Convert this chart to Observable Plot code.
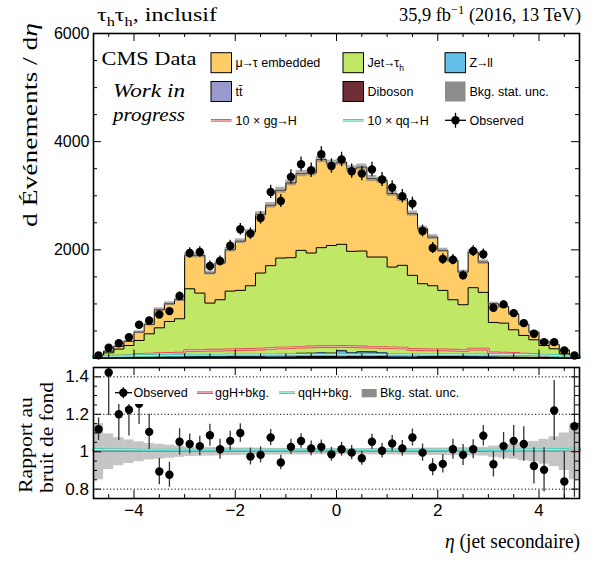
<!DOCTYPE html>
<html><head><meta charset="utf-8">
<script src="https://cdn.jsdelivr.net/npm/d3@7"></script>
<script src="https://cdn.jsdelivr.net/npm/@observablehq/plot@0.6"></script>
<style>
html,body{margin:0;padding:0;background:#fff;}
#wrap{position:relative;width:595px;height:562px;overflow:hidden;background:#fff;}
#wrap > svg{position:absolute;left:0;}
</style></head><body><div id="wrap"></div>
<script>
// ---------------- DATA ----------------
const binEdges = [-4.8,-4.6,-4.4,-4.2,-4.0,-3.8,-3.6,-3.4,-3.2,-3.0,-2.8,-2.6,-2.4,-2.2,-2.0,-1.8,-1.6,-1.4,-1.2,-1.0,-0.8,-0.6,-0.4,-0.2,0,0.2,0.4,0.6,0.8,1.0,1.2,1.4,1.6,1.8,2.0,2.2,2.4,2.6,2.8,3.0,3.2,3.4,3.6,3.8,4.0,4.2,4.4,4.6,4.8];

const embedded = [15,31,48,74,154,173,334,328,352,620,
  698,556,679,766,910,994,1086,1117,1254,1382,
  1420,1481,1630,1520,1518,1528,1552,1451,1420,1358,
  1235,1142,1018,901,740,728,604,660,561,346,
  309,296,203,141,80,80,72,31];
const jetFakes = [22,86,154,219,309,430,540,655,704,1256,
  1173,987,1047,1205,1216,1302,1536,1662,1800,1806,
  1902,1851,1947,1989,1968,1879,1864,1755,1774,1630,
  1663,1482,1342,1306,1222,1050,960,1277,1192,638,
  628,506,403,325,221,161,70,10];
const zll = [3,4,5,6,7,8,9,10,11,12,
  14,15,16,17,18,18,19,28,30,30,
  62,64,66,64,100,66,84,82,66,34,
  32,30,18,17,16,15,14,13,12,10,
  9,8,7,6,5,4,3,2];
const ttbar = [3,3,4,4,5,6,6,7,7,8,
  9,9,10,10,11,11,11,12,12,13,
  18,18,19,19,24,19,21,21,19,12,
  12,11,9,9,8,8,7,7,6,6,
  5,5,4,4,3,3,3,2];
const diboson = [2,2,2,2,3,3,3,3,3,4,
  4,4,4,5,5,5,5,5,6,6,
  8,8,8,8,10,8,9,9,8,6,
  6,5,5,4,4,4,4,3,3,3,
  3,3,3,2,2,2,2,1];
const ggH10 = [25,30,35,40,70,75,80,85,90,140,
  140,145,145,150,155,160,165,175,185,190,
  200,205,210,210,215,210,205,200,195,190,
  185,160,155,150,150,145,140,165,165,95,
  90,85,75,65,45,35,25,15];
const qqH10 = [20,30,35,40,45,45,50,50,50,55,
  55,55,55,60,60,60,60,60,62,62,
  62,62,62,62,62,62,62,62,62,62,
  62,60,60,60,60,60,60,60,60,65,
  65,65,65,60,55,45,35,25];
const observed = [48,189,274,385,614,694,805,867,1145,1941,
  1960,1700,1793,2077,2380,2300,2589,3071,2904,3349,
  3583,3472,3768,3550,3670,3454,3410,3485,3300,3152,
  2990,2855,2348,2034,1830,1818,1528,1978,1917,930,
  991,830,645,448,293,293,139,46];
const bkgRelUnc = [0.15,0.095,0.075,0.063,0.053,0.044,0.04,0.035,0.03,0.025,
  0.024,0.023,0.022,0.021,0.02,0.02,0.019,0.018,0.018,0.017,
  0.017,0.016,0.016,0.016,0.016,0.016,0.016,0.017,0.017,0.017,
  0.018,0.018,0.019,0.02,0.02,0.021,0.022,0.022,0.023,0.03,
  0.035,0.04,0.048,0.055,0.066,0.08,0.1,0.15];
const ratioObs = [1.12,1.423,1.20,1.224,1.256,1.106,0.894,0.877,1.053,1.041,
  1.030,1.088,1.013,1.058,1.10,0.974,0.983,1.076,0.942,1.026,
  1.057,1.018,1.026,0.986,1.013,0.995,0.965,1.053,1.005,1.044,
  1.018,1.076,0.995,0.917,0.935,1.013,0.983,1.013,1.085,0.933,
  1.030,1.058,1.041,0.924,0.903,1.22,0.841,1.136];
const ratioErr = [0.06,0.23,0.14,0.14,0.11,0.094,0.07,0.067,0.07,0.053,
  0.052,0.059,0.053,0.052,0.05,0.045,0.043,0.043,0.039,0.04,
  0.039,0.039,0.037,0.037,0.037,0.038,0.037,0.04,0.039,0.042,
  0.042,0.045,0.046,0.045,0.049,0.053,0.056,0.051,0.055,0.068,
  0.073,0.082,0.092,0.097,0.118,0.16,0.16,0.38];
const ggRatio = [1.004,1.005,1.005,1.005,1.006,1.006,1.006,1.006,1.006,1.006,
  1.006,1.006,1.006,1.006,1.006,1.006,1.006,1.006,1.006,1.006,
  1.006,1.006,1.006,1.006,1.006,1.006,1.006,1.006,1.006,1.006,
  1.006,1.006,1.006,1.006,1.006,1.006,1.006,1.006,1.006,1.007,
  1.007,1.007,1.007,1.007,1.007,1.007,1.007,1.007];
const qqRatio = [1.012,1.011,1.011,1.011,1.010,1.010,1.010,1.010,1.010,1.010,
  1.010,1.010,1.010,1.010,1.010,1.010,1.010,1.010,1.010,1.010,
  1.010,1.010,1.010,1.010,1.010,1.010,1.010,1.010,1.010,1.010,
  1.010,1.010,1.010,1.010,1.010,1.010,1.010,1.010,1.010,1.010,
  1.010,1.010,1.011,1.011,1.011,1.012,1.013,1.015];

const xMajorTicks = [-4,-2,0,2,4];
const xTickLabels = ["\u22124","\u22122","0","2","4"];
const xMinorTicks = [-4.5,-3.5,-3,-2.5,-1.5,-1,-0.5,0.5,1,1.5,2.5,3,3.5,4.5];
const yMajorTicks = [0,2000,4000,6000];
const yLabelTicks = [2000,4000,6000];
const yMinorTicks = [500,1000,1500,2500,3000,3500,4500,5000,5500];
const rMajorTicks = [0.8,1,1.2,1.4];
const rTickLabels = ["0.8","1","1.2","1.4"];
const rMinorTicks = [0.75,0.85,0.9,0.95,1.05,1.1,1.15,1.25,1.3,1.35,1.45];
const rGrid = [0.8,1.2,1.4];

// ---------------- helpers ----------------
const n = observed.length;
const serif = "'Liberation Serif','DejaVu Serif',serif";
const sans = "'Liberation Sans','DejaVu Sans',Arial,sans-serif";
const rows = d3.range(n).map(i => ({
  x1: binEdges[i], x2: binEdges[i+1], xc: (binEdges[i] + binEdges[i+1]) / 2,
  obs: observed[i], r: ratioObs[i], rErr: ratioErr[i], unc: bkgRelUnc[i]
}));
function stepPts(vals, closed) {
  const pts = closed ? [{x: binEdges[0], y: 0}] : [];
  vals.forEach((v, i) => pts.push({x: binEdges[i], y: v}));
  pts.push({x: binEdges[n], y: vals[n-1]});
  if (closed) pts.push({x: binEdges[n], y: 0});
  return pts;
}
function innerTicks(W, H, xMaj, xMin, yMaj, yMin, maj, mino) {
  const s = {stroke: "black", strokeWidth: 1};
  return [
    Plot.tickX(xMaj, {x: d => d, insetTop: H - maj, ...s}),
    Plot.tickX(xMaj, {x: d => d, insetBottom: H - maj, ...s}),
    Plot.tickX(xMin, {x: d => d, insetTop: H - mino, ...s}),
    Plot.tickX(xMin, {x: d => d, insetBottom: H - mino, ...s}),
    Plot.tickY(yMaj, {y: d => d, insetRight: W - maj, ...s}),
    Plot.tickY(yMaj, {y: d => d, insetLeft: W - maj, ...s}),
    Plot.tickY(yMin, {y: d => d, insetRight: W - mino, ...s}),
    Plot.tickY(yMin, {y: d => d, insetLeft: W - mino, ...s})
  ];
}

// ---------------- top panel ----------------
const procs = [
  {values: diboson, color: "#6f2d35"},
  {values: ttbar, color: "#9999cc"},
  {values: zll, color: "#64c0e8"},
  {values: jetFakes, color: "#c0e864"},
  {values: embedded, color: "#ffcc66"}
];
let cum = new Array(n).fill(0);
const stackMarks = [], outlineMarks = [];
procs.forEach(p => {
  const data = rows.map((r, i) => ({x1: r.x1, x2: r.x2, y1: cum[i], y2: cum[i] + p.values[i]}));
  cum = data.map(d => d.y2);
  stackMarks.push(Plot.rect(data, {x1: "x1", x2: "x2", y1: "y1", y2: "y2", fill: p.color, shapeRendering: "crispEdges"}));
  outlineMarks.push(Plot.line(stepPts(cum, true), {x: "x", y: "y", curve: "step-after", stroke: "black", strokeWidth: 1}));
});
const totalBkg = cum;

const W = 595 - 93 - 16;
const H1 = 360 - 33 - 2.5;
const topPlot = Plot.plot({
  width: 595, height: 360, marginLeft: 93, marginRight: 16, marginTop: 33, marginBottom: 2.5,
  x: {domain: [-4.8, 4.8], axis: null},
  y: {domain: [0, 6000], axis: null},
  style: {fontFamily: sans, background: "white", color: "black"},
  marks: [
    ...stackMarks,
    ...outlineMarks,
    Plot.rect(rows.map((r, i) => ({x1: r.x1, x2: r.x2, lo: totalBkg[i] * (1 - r.unc), hi: totalBkg[i] * (1 + r.unc)})),
      {x1: "x1", x2: "x2", y1: "lo", y2: "hi", fill: "#7a7a7a", fillOpacity: 0.6}),
    Plot.line(stepPts(ggH10, false), {x: "x", y: "y", curve: "step-after", stroke: "#e3434e", strokeWidth: 2.6}),
    Plot.line(stepPts(ggH10, false), {x: "x", y: "y", curve: "step-after", stroke: "#f8c9cc", strokeWidth: 0.9}),
    Plot.line(stepPts(qqH10, false), {x: "x", y: "y", curve: "step-after", stroke: "#2cc7b3", strokeWidth: 2.6}),
    Plot.line(stepPts(qqH10, false), {x: "x", y: "y", curve: "step-after", stroke: "#d2f6f0", strokeWidth: 0.9}),
    Plot.ruleX(rows, {x: "xc", y1: d => d.obs * (1 - d.rErr / d.r), y2: d => d.obs * (1 + d.rErr / d.r), stroke: "black", strokeWidth: 1.3}),
    Plot.dot(rows, {x: "xc", y: "obs", r: 4.2, fill: "black", stroke: "none"}),
    ...innerTicks(W, H1, xMajorTicks, xMinorTicks, yMajorTicks, yMinorTicks, 8, 4),
    Plot.axisY(yLabelTicks, {tickSize: 0, tickPadding: 4, fontSize: 16, label: null, tickFormat: d => String(d)}),
    Plot.frame({stroke: "black", strokeWidth: 1.6})
  ]
});
topPlot.style.top = "0px";

// ---------------- ratio panel ----------------
const H2 = 202 - 7 - 64;
const ratioPlot = Plot.plot({
  width: 595, height: 202, marginLeft: 93, marginRight: 16, marginTop: 7, marginBottom: 64,
  x: {domain: [-4.8, 4.8], axis: null},
  y: {domain: [0.75, 1.45], axis: null},
  style: {fontFamily: sans, background: "white", color: "black"},
  marks: [
    Plot.ruleY(rGrid, {stroke: "black", strokeWidth: 1, strokeDasharray: "1.2,2.2"}),
    Plot.rect(rows, {x1: "x1", x2: "x2", y1: d => 1 - d.unc, y2: d => 1 + d.unc, fill: "#8c8c8c", fillOpacity: 0.5, clip: true}),
    Plot.line(stepPts(ggRatio, false), {x: "x", y: "y", curve: "step-after", stroke: "#e3434e", strokeWidth: 2.4}),
    Plot.line(stepPts(ggRatio, false), {x: "x", y: "y", curve: "step-after", stroke: "#f8c9cc", strokeWidth: 0.8}),
    Plot.line(stepPts(qqRatio, false), {x: "x", y: "y", curve: "step-after", stroke: "#2cc7b3", strokeWidth: 2.4}),
    Plot.line(stepPts(qqRatio, false), {x: "x", y: "y", curve: "step-after", stroke: "#d2f6f0", strokeWidth: 0.8}),
    Plot.ruleX(rows, {x: "xc", y1: d => d.r - d.rErr, y2: d => d.r + d.rErr, stroke: "#333", strokeWidth: 1.3, clip: true}),
    Plot.dot(rows, {x: "xc", y: "r", r: 4.2, fill: "black", stroke: "none", clip: true}),
    ...innerTicks(W, H2, xMajorTicks, xMinorTicks, rMajorTicks, rMinorTicks, 8, 4),
    Plot.axisY(rMajorTicks, {tickSize: 0, tickPadding: 4.5, fontSize: 17, label: null, tickFormat: d => rTickLabels[rMajorTicks.indexOf(d)]}),
    Plot.axisX(xMajorTicks, {tickSize: 0, tickPadding: 5, fontSize: 17, label: null, tickFormat: d => xTickLabels[xMajorTicks.indexOf(d)]}),
    Plot.frame({stroke: "black", strokeWidth: 1.6})
  ]
});
ratioPlot.style.top = "360px";

const wrap = document.getElementById("wrap");
wrap.appendChild(topPlot);
wrap.appendChild(ratioPlot);

// ---------------- texts and legends (overlay) ----------------
const ov = d3.create("svg").attr("width", 595).attr("height", 562)
  .style("position", "absolute").style("top", "0px").style("left", "0px").style("pointer-events", "none");

function txt(parent, x, y, parts, o) {
  const t = parent.append("text").attr("x", x).attr("y", y)
    .attr("font-family", o.family || serif).attr("font-size", o.size)
    .attr("text-anchor", o.anchor || "start").attr("fill", "black");
  if (o.italic) t.attr("font-style", "italic");
  if (o.length) t.attr("textLength", o.length).attr("lengthAdjust", "spacingAndGlyphs");
  let shift = 0, tight = false;
  parts.forEach(p => {
    const s = t.append("tspan").text(p.t);
    let target = 0;
    if (p.sub) { target = o.size * 0.28; s.attr("font-size", o.size * 0.68); }
    if (p.sup) { target = -o.size * 0.38; s.attr("font-size", o.size * 0.68); }
    if (p.italic) s.attr("font-style", "italic");
    if (p.arrow) { s.attr("dx", -1.2); tight = true; }
    else if (tight) { s.attr("dx", -1.2); tight = false; }
    if (target !== shift) { s.attr("dy", target - shift); shift = target; }
  });
  return t;
}

// header
txt(ov, 97, 21, [{t: "\u03c4"}, {t: "h", sub: true}, {t: "\u03c4"}, {t: "h", sub: true}, {t: ", inclusif"}], {size: 18, length: 120});
txt(ov, 581, 21, [{t: "35,9 fb"}, {t: "\u22121", sup: true}, {t: " (2016, 13 TeV)"}], {size: 18, anchor: "end", length: 182});
// CMS label
txt(ov, 101.5, 65, [{t: "CMS Data"}], {size: 19, length: 95});
txt(ov, 113, 97, [{t: "Work  in"}], {size: 18, italic: true, length: 72});
txt(ov, 113, 121, [{t: "progress"}], {size: 18, italic: true, length: 72});
// axis titles
const gy = ov.append("g").attr("transform", "translate(37,227) rotate(-90)");
txt(gy, 0, 0, [{t: "d \u00c9v\u00e9nements / d"}, {t: "\u03b7", italic: true}], {size: 21, length: 204});
const gr1 = ov.append("g").attr("transform", "translate(32,493) rotate(-90)");
txt(gr1, 0, 0, [{t: "Rapport au"}], {size: 19.5, length: 96});
const gr2 = ov.append("g").attr("transform", "translate(53,493) rotate(-90)");
txt(gr2, 0, 0, [{t: "bruit de fond"}], {size: 19.5, length: 111});
txt(ov, 580, 548, [{t: "\u03b7", italic: true}, {t: " (jet secondaire)"}], {size: 21, anchor: "end", length: 135});

// top legend
const legendTop = [
  {parts: [{t: "\u03bc"}, {t: "\u2192", arrow: true}, {t: "\u03c4 embedded"}], kind: "box", color: "#ffcc66"},
  {parts: [{t: "Jet"}, {t: "\u2192", arrow: true}, {t: "\u03c4"}, {t: "h", sub: true}], kind: "box", color: "#c0e864"},
  {parts: [{t: "Z"}, {t: "\u2192", arrow: true}, {t: "ll"}], kind: "box", color: "#64c0e8"},
  {parts: [{t: "t"}, {t: "t\u0304"}], kind: "box", color: "#9999cc"},
  {parts: [{t: "Diboson"}], kind: "box", color: "#6f2d35"},
  {parts: [{t: "Bkg. stat. unc."}], kind: "band", color: "#8c8c8c"},
  {parts: [{t: "10 \u00d7 gg"}, {t: "\u2192", arrow: true}, {t: "H"}], kind: "line", color: "#e3434e", inner: "#f8c9cc"},
  {parts: [{t: "10 \u00d7 qq"}, {t: "\u2192", arrow: true}, {t: "H"}], kind: "line", color: "#2cc7b3", inner: "#d2f6f0"},
  {parts: [{t: "Observed"}], kind: "obs"}
];
const colX = [211, 343, 445];
const rowY = [62.7, 91.5, 120.3];
legendTop.forEach((e, k) => {
  const x = colX[k % 3], y = rowY[Math.floor(k / 3)];
  if (e.kind === "box") ov.append("rect").attr("x", x).attr("y", y - 10).attr("width", 20.5).attr("height", 20).attr("fill", e.color).attr("stroke", "black").attr("stroke-width", 1);
  if (e.kind === "band") ov.append("rect").attr("x", x).attr("y", y - 10).attr("width", 20.5).attr("height", 20).attr("fill", e.color);
  if (e.kind === "line") {
    ov.append("line").attr("x1", x).attr("x2", x + 20.5).attr("y1", y).attr("y2", y).attr("stroke", e.color).attr("stroke-width", 2.6);
    ov.append("line").attr("x1", x).attr("x2", x + 20.5).attr("y1", y).attr("y2", y).attr("stroke", e.inner).attr("stroke-width", 0.9);
  }
  if (e.kind === "obs") {
    ov.append("line").attr("x1", x).attr("x2", x + 21).attr("y1", y).attr("y2", y).attr("stroke", "black").attr("stroke-width", 1.3);
    ov.append("line").attr("x1", x + 10.5).attr("x2", x + 10.5).attr("y1", y - 7.5).attr("y2", y + 7.5).attr("stroke", "black").attr("stroke-width", 1.3);
    ov.append("circle").attr("cx", x + 10.5).attr("cy", y).attr("r", 4.2).attr("fill", "black");
  }
  txt(ov, x + 24.5, y + 4.5, e.parts, {size: 12.5, family: sans});
});

// ratio legend
ov.append("rect").attr("x", 112).attr("y", 381).attr("width", 373).attr("height", 23).attr("fill", "white");
const ry = 392.7;
ov.append("line").attr("x1", 115).attr("x2", 132).attr("y1", ry).attr("y2", ry).attr("stroke", "black").attr("stroke-width", 1.3);
ov.append("line").attr("x1", 123.3).attr("x2", 123.3).attr("y1", ry - 5.5).attr("y2", ry + 5.5).attr("stroke", "black").attr("stroke-width", 1.3);
ov.append("circle").attr("cx", 123.3).attr("cy", ry).attr("r", 4.2).attr("fill", "black");
txt(ov, 133.5, ry + 4.5, [{t: "Observed"}], {size: 12.5, family: sans});
[[197, "#e3434e", "#f8c9cc", "ggH+bkg.", 215], [279, "#2cc7b3", "#d2f6f0", "qqH+bkg.", 298]].forEach(([x, c, ci, lab, tx]) => {
  ov.append("line").attr("x1", x).attr("x2", x + 16).attr("y1", ry).attr("y2", ry).attr("stroke", c).attr("stroke-width", 2.6);
  ov.append("line").attr("x1", x).attr("x2", x + 16).attr("y1", ry).attr("y2", ry).attr("stroke", ci).attr("stroke-width", 0.9);
  txt(ov, tx, ry + 4.5, [{t: lab}], {size: 12.5, family: sans});
});
ov.append("rect").attr("x", 361.7).attr("y", 389).attr("width", 15).attr("height", 8.3).attr("fill", "#8c8c8c");
txt(ov, 380, ry + 4.5, [{t: "Bkg. stat. unc."}], {size: 12.5, family: sans});

wrap.appendChild(ov.node());
</script></body></html>
